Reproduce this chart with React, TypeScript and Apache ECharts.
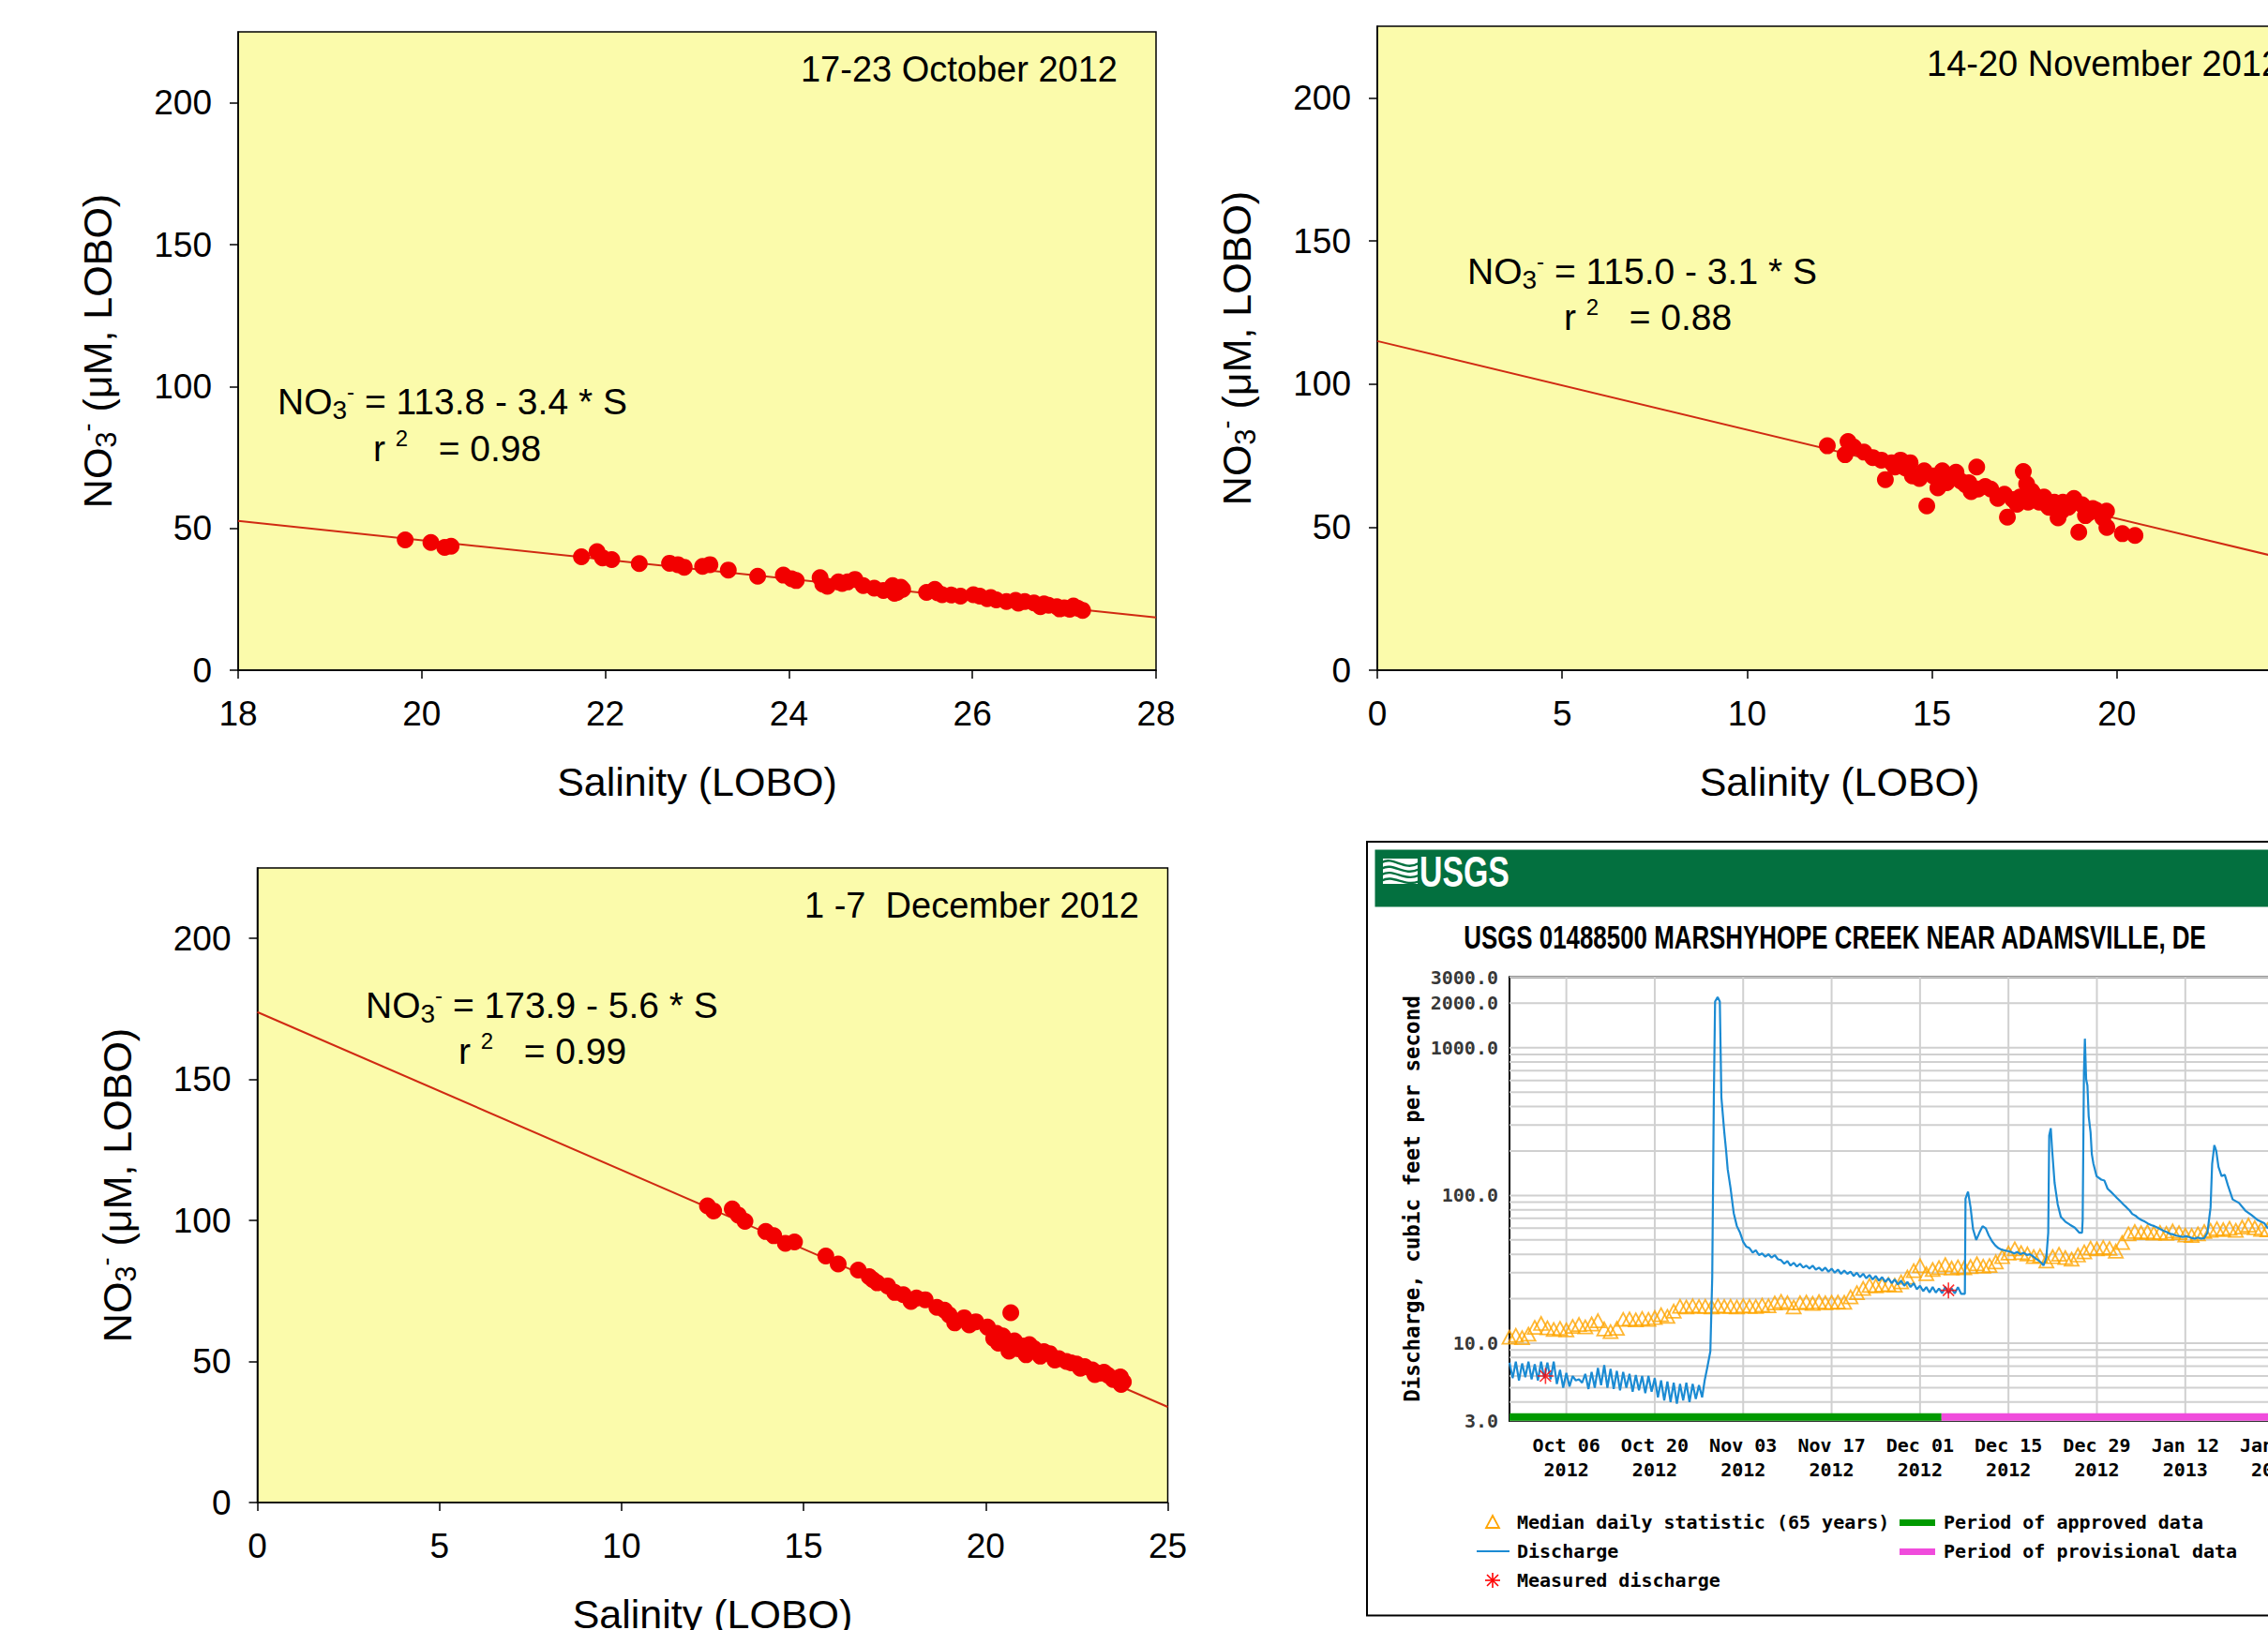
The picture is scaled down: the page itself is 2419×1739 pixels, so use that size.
import React, { useEffect, useRef } from 'react';
import * as echarts from 'echarts';

// ---------------- Panel data: LOBO nitrate vs salinity ----------------
const octSalinity = [19.82, 20.10, 20.25, 20.32, 21.74, 21.91, 21.97, 22.07, 22.37, 22.70, 22.79, 22.86, 23.06, 23.14, 23.34, 23.66, 23.94, 24.03, 24.08, 24.34, 24.37, 24.54, 24.64, 24.72, 24.81, 24.93, 25.03, 25.13, 25.18, 25.24, 25.50, 25.59, 25.67, 25.77, 25.87, 26.01, 26.08, 26.16, 26.26, 26.37, 26.47, 26.57, 26.67, 26.74, 26.83, 26.92, 27.00, 27.06, 27.15, 27.20, 24.42, 24.58, 25.15, 25.22, 25.62, 26.20, 26.50, 26.78, 26.95, 27.10];
const octNitrate = [45.9, 45.0, 43.3, 43.7, 40.0, 41.8, 39.6, 39.0, 37.6, 37.7, 37.2, 36.3, 36.6, 37.2, 35.3, 33.1, 33.5, 32.2, 31.6, 32.6, 30.3, 31.1, 31.1, 32.0, 29.8, 28.9, 28.1, 29.8, 27.4, 28.5, 27.4, 28.5, 26.6, 26.5, 26.1, 26.6, 26.1, 25.2, 24.8, 24.2, 24.6, 24.2, 23.7, 22.4, 22.9, 22.4, 22.0, 21.5, 21.8, 21.1, 29.6, 30.6, 27.1, 29.2, 27.3, 25.6, 23.6, 23.4, 21.6, 22.6];

const novSalinity = [12.17, 12.65, 12.73, 12.88, 13.16, 13.40, 13.63, 13.74, 13.91, 14.15, 14.28, 14.41, 14.47, 14.66, 14.79, 14.86, 15.03, 15.16, 15.28, 15.50, 15.65, 15.78, 15.91, 16.06, 16.21, 16.25, 16.44, 16.59, 16.78, 16.96, 17.04, 17.19, 17.38, 17.47, 17.56, 17.60, 17.75, 17.90, 18.03, 18.16, 18.31, 18.41, 18.54, 18.69, 18.84, 18.97, 19.06, 19.25, 19.44, 19.62, 19.72, 19.73, 20.15, 20.49, 17.30, 17.70, 18.10, 18.50, 18.75, 19.15, 19.35, 15.40, 16.00, 14.00];
const novNitrate = [78.4, 75.3, 79.9, 78.0, 76.2, 74.3, 73.4, 66.6, 72.5, 73.4, 70.7, 72.5, 67.9, 67.0, 69.7, 57.4, 67.9, 63.7, 69.7, 67.0, 69.2, 66.1, 64.8, 62.4, 71.0, 63.3, 64.2, 63.3, 60.0, 61.5, 53.5, 59.6, 60.5, 69.4, 65.1, 58.7, 61.5, 58.7, 60.5, 56.9, 58.7, 53.2, 58.7, 56.9, 60.0, 48.2, 57.8, 55.0, 55.9, 53.2, 55.6, 49.9, 47.7, 47.1, 58.0, 62.5, 58.0, 55.5, 58.0, 54.0, 56.5, 65.5, 65.5, 71.0];

const decSalinity = [12.36, 12.53, 13.04, 13.21, 13.39, 13.96, 14.18, 14.50, 14.75, 15.61, 15.95, 16.50, 16.80, 17.02, 17.31, 17.74, 17.95, 18.34, 18.66, 18.87, 19.15, 19.41, 19.73, 20.05, 20.22, 20.47, 20.69, 20.64, 20.79, 21.01, 21.11, 21.33, 21.50, 21.76, 22.01, 22.22, 22.50, 22.72, 22.93, 23.14, 23.36, 23.61, 23.72, 23.78, 20.35, 20.90, 21.20, 21.60, 21.90, 22.35, 22.60, 23.00, 23.25, 23.50, 23.70, 16.90, 17.50, 18.10, 19.00, 19.55, 20.30];
const decNitrate = [105.2, 103.4, 104.1, 101.9, 99.7, 96.1, 94.6, 91.9, 92.4, 87.4, 84.6, 82.4, 80.1, 77.9, 76.8, 73.7, 71.3, 71.9, 69.2, 68.2, 63.7, 65.5, 64.1, 62.2, 58.2, 59.1, 67.3, 53.7, 57.3, 55.5, 52.4, 54.6, 51.9, 52.8, 51.0, 50.0, 49.1, 48.2, 47.0, 45.9, 45.1, 44.0, 41.9, 42.8, 56.5, 54.5, 56.0, 53.5, 50.5, 49.5, 47.6, 45.4, 46.2, 43.6, 44.5, 79.0, 74.5, 72.5, 66.5, 63.0, 60.0];

// Regression fits printed on the panels: NO3 = a + b * S
const fitIntercepts = [113.8, 115.0, 173.9];
const fitSlopes = [-3.4, -3.1, -5.6];
const fitR2 = ['0.98', '0.88', '0.99'];
const panelPeriods = ['17-23 October 2012', '14-20 November 2012', '1 -7  December 2012'];
const nitrateTicks = [0, 50, 100, 150, 200];

// ---------------- USGS 01488500 discharge (day 0 = 6 Oct 2012) ----------------
const usgsTickDays = [0, 14, 28, 42, 56, 70, 84, 98, 112];
const usgsTickLabels = ['Oct 06\n2012', 'Oct 20\n2012', 'Nov 03\n2012', 'Nov 17\n2012', 'Dec 01\n2012', 'Dec 15\n2012', 'Dec 29\n2012', 'Jan 12\n2013', 'Jan 26\n2013'];
const usgsAxisLabels = [3, 10, 100, 1000, 2000, 3000];
const usgsGridValues = [3, 4, 5, 6, 7, 8, 9, 10, 20, 30, 40, 50, 60, 70, 80, 90, 100, 200, 300, 400, 500, 600, 700, 800, 900, 1000, 2000, 3000];

const medianStartDay = -9;
const medianCfs = [
  11.0, 11.3, 10.9, 11.5, 12.8, 13.6, 12.7, 12.4, 12.6, 12.3,
  13.0, 13.4, 12.9, 13.5, 14.2, 12.5, 12.0, 12.6, 14.5, 14.6,
  14.4, 14.7, 14.5, 14.9, 15.6, 15.2, 16.5, 17.8, 17.6, 17.9,
  17.7, 17.8, 17.6, 17.9, 17.7, 17.8, 17.6, 17.9, 17.8, 17.7,
  18.1, 17.9, 18.7, 19.2, 18.8, 17.6, 18.8, 19.0, 18.6, 19.1,
  18.8, 18.9, 19.0, 18.9, 20.6, 22.0, 23.5, 24.6, 24.4, 24.8,
  25.0, 24.7, 26.0, 28.0, 31.0, 33.5, 29.5, 31.5, 32.5, 34.0,
  32.2, 32.8, 32.4, 33.0, 34.5, 33.2, 33.6, 35.5, 38.5, 40.8,
  43.5, 41.0, 40.2, 38.6, 39.0, 36.0, 38.5, 40.0, 38.0, 37.0,
  39.5, 41.5, 44.0, 43.5, 44.5, 43.8, 42.0, 48.0, 55.0, 57.0,
  56.0, 56.8, 55.6, 56.2, 55.4, 57.5, 56.0, 54.0, 53.5, 55.0,
  57.0, 58.0, 59.5, 58.6, 60.0, 58.0, 61.0, 63.0, 60.5, 59.0,
  58.5,
];

const dischargeCfs = [
  [-9, 7.4], [-8.5, 5.8], [-8, 7.5], [-7.5, 5.6], [-7, 7.3], [-6.5, 5.9], [-6, 7.5], [-5.5, 5.7], [-5, 7.2], [-4.5, 5.6],
  [-4, 7.5], [-3.5, 5.8], [-3, 7.4], [-2.5, 5.7], [-2, 7.5], [-1.5, 5.3], [-1, 6.6], [-0.5, 5.0], [0, 6.3], [0.5, 5.1],
  [1, 6.0], [1.5, 5.6], [2, 5.7], [2.5, 5.4], [3, 6.2], [3.5, 4.9], [4, 6.4], [4.5, 5.0], [5, 6.8], [5.5, 5.2],
  [6, 7.1], [6.5, 5.0], [7, 6.7], [7.5, 4.9], [8, 6.5], [8.5, 4.8], [9, 6.4], [9.5, 5.0], [10, 6.2], [10.5, 4.7],
  [11, 6.1], [11.5, 4.8], [12, 6.0], [12.5, 4.6], [13, 6.0], [13.5, 4.7], [14, 5.8], [14.5, 4.3], [15, 5.6], [15.5, 4.1],
  [16, 5.5], [16.5, 4.0], [17, 5.4], [17.5, 3.9], [18, 5.3], [18.5, 4.1], [19, 5.4], [19.5, 4.0], [20, 5.3], [20.5, 4.2],
  [21, 5.2], [21.5, 4.3], [21.9, 5.6], [22.3, 6.8], [22.8, 8.8], [23.1, 28], [23.35, 450], [23.55, 2050], [23.95, 2200], [24.3, 2050],
  [24.55, 460], [25.0, 270], [25.3, 200], [25.55, 150], [26.0, 112], [26.5, 76], [27.0, 62], [27.5, 56], [28.0, 48.5], [28.5, 45],
  [29, 44], [29.5, 41], [30, 42.5], [30.5, 39.5], [31, 40.5], [31.5, 38.5], [32, 40], [32.5, 38], [33, 39.5], [33.5, 37],
  [34, 36.5], [34.5, 34.5], [35, 36], [35.5, 33.5], [36, 35], [36.5, 33], [37, 34.5], [37.5, 32.5], [38, 33.5], [38.5, 32],
  [39, 33.5], [39.5, 31.5], [40, 32.5], [40.5, 31], [41, 32.5], [41.5, 30.5], [42, 32], [42.5, 30], [43, 31.5], [43.5, 29.5],
  [44, 31], [44.5, 29.5], [45, 30.5], [45.5, 28.5], [46, 30], [46.5, 28], [47, 29.5], [47.5, 27.5], [48, 29], [48.5, 27],
  [49, 28.5], [49.5, 26.5], [50, 28], [50.5, 26], [51, 27.5], [51.5, 25.5], [52, 27], [52.5, 25], [53, 26.5], [53.5, 24.5],
  [54, 26], [54.5, 24], [55, 25.5], [55.5, 23.2], [56, 24.5], [56.5, 22.5], [57, 24], [57.5, 22], [58, 24], [58.5, 22],
  [59, 23.5], [59.5, 21.8], [60, 24], [60.5, 21.8], [61, 23.5], [61.5, 21.7], [62, 24], [62.5, 21.6], [63.1, 21.6], [63.2, 95],
  [63.6, 106], [64.0, 83], [64.4, 59], [64.9, 50], [65.4, 56], [65.9, 62], [66.4, 60], [66.9, 53.5], [67.4, 49], [67.9, 46],
  [68.4, 44], [68.9, 43], [69.4, 42.5], [69.9, 42], [70.4, 41.5], [70.9, 40.5], [71.4, 41.5], [71.9, 40], [72.4, 41], [72.9, 39.5],
  [73.4, 40], [73.8, 39], [74.3, 37.5], [74.8, 36.2], [75.2, 35], [75.55, 33.6], [76.0, 38], [76.3, 56], [76.45, 254], [76.7, 285],
  [76.9, 208], [77.3, 122], [77.8, 87], [78.3, 71.5], [79.0, 66.5], [79.75, 63.3], [80.5, 60.5], [81.2, 56], [81.65, 56], [81.75, 68],
  [81.95, 674], [82.1, 1150], [82.3, 611], [82.5, 556], [82.7, 344], [83.0, 267], [83.2, 190], [83.45, 164], [83.95, 135], [84.7, 128],
  [85.2, 126], [85.7, 111], [86.2, 106], [86.7, 101], [87.2, 96], [87.7, 91.5], [88.2, 87], [88.7, 83], [89.2, 79], [89.6, 75],
  [90.1, 73], [90.6, 70], [91.1, 68], [91.6, 66.5], [92.1, 64.5], [92.6, 63], [93.1, 62], [93.6, 60.5], [94.1, 59], [94.6, 57.6],
  [95.1, 56.5], [95.6, 54.9], [96.1, 54.5], [96.6, 53.5], [97.1, 53], [97.6, 52.3], [98.1, 53], [98.6, 52.3], [99.1, 51.5], [99.5, 51],
  [100, 52], [100.5, 51], [101, 51.5], [101.5, 56], [102.0, 83], [102.25, 164], [102.6, 219], [102.9, 200], [103.25, 156], [103.75, 135],
  [104.25, 138], [104.75, 117], [105.5, 94], [106.5, 89], [107.5, 79], [108.5, 73.5], [109.5, 68], [110.5, 65], [111, 60.5], [112, 58],
];

const measuredDischarge = [[-3.3, 6.0], [60.5, 22.8]];
const approvedPeriod = [-9, 59.4];
const provisionalPeriod = [59.4, 120];

// ---------------- Styling ----------------
const FONT = '"Liberation Sans", Arial, Helvetica, sans-serif';
const MONO = '"DejaVu Sans Mono", "Liberation Mono", monospace';
const PANEL_BG = '#fbfbab';
const DOT = '#f20000';
const FIT = '#d02a12';
const USGS_GREEN = '#03703f';
const BLUE = '#1b8bd3';
const ORANGE = '#ffa500';
const GRID_GRAY = '#d0d0d0';

const yNameRich = {
  b: { fontFamily: FONT, fontSize: 43, lineHeight: 50, verticalAlign: 'middle', color: '#000' },
  s: { fontFamily: FONT, fontSize: 31, verticalAlign: 'bottom', color: '#000' },
  p: { fontFamily: FONT, fontSize: 27, verticalAlign: 'top', color: '#000' },
};

const eqRich = {
  t: { fontFamily: FONT, fontSize: 39, lineHeight: 46, verticalAlign: 'middle', fill: '#000', color: '#000' },
  s: { fontFamily: FONT, fontSize: 28, verticalAlign: 'bottom', fill: '#000', color: '#000' },
  p: { fontFamily: FONT, fontSize: 24, verticalAlign: 'top', fill: '#000', color: '#000' },
};

const panelLayouts = [
  { grid: { left: 254, top: 34, width: 979, height: 681 }, xmin: 18, xmax: 28, xint: 2,
    date: { x: 1192, y: 74, align: 'right' }, eq1: [296, 428], eq2: [398, 478] },
  { grid: { left: 1469, top: 28, width: 986, height: 687 }, xmin: 0, xmax: 25, xint: 5,
    date: { x: 2055, y: 68, align: 'left' }, eq1: [1565, 289], eq2: [1668, 338] },
  { grid: { left: 274.5, top: 926, width: 971, height: 677 }, xmin: 0, xmax: 25, xint: 5,
    date: { x: 1215, y: 966, align: 'right' }, eq1: [390, 1072], eq2: [489, 1121] },
];
const panelData = [
  [octSalinity, octNitrate],
  [novSalinity, novNitrate],
  [decSalinity, decNitrate],
];

function buildOption() {
  const grids: any[] = [];
  const xAxes: any[] = [];
  const yAxes: any[] = [];
  const series: any[] = [];
  const graphics: any[] = [];

  panelLayouts.forEach((p, i) => {
    grids.push({
      ...p.grid, show: true, backgroundColor: PANEL_BG, borderColor: '#000', borderWidth: 1.5,
      containLabel: false, outerBoundsMode: 'none',
    });
    xAxes.push({
      gridIndex: i, type: 'value', min: p.xmin, max: p.xmax, interval: p.xint,
      axisLine: { show: true, onZero: false, lineStyle: { color: '#000', width: 1.5 } },
      axisTick: { show: true, inside: false, length: 9, lineStyle: { color: '#000', width: 1.5 } },
      axisLabel: { show: true, color: '#000', fontFamily: FONT, fontSize: 37, margin: 28 },
      splitLine: { show: false },
      name: 'Salinity (LOBO)', nameLocation: 'middle', nameGap: 97,
      nameTextStyle: { color: '#000', fontFamily: FONT, fontSize: 43 },
    });
    yAxes.push({
      gridIndex: i, type: 'value', min: 0, max: 225, interval: 50,
      axisLine: { show: true, onZero: false, lineStyle: { color: '#000', width: 1.5 } },
      axisTick: { show: true, inside: false, length: 9, customValues: nitrateTicks, lineStyle: { color: '#000', width: 1.5 } },
      axisLabel: { show: true, color: '#000', fontFamily: FONT, fontSize: 37, margin: 28, customValues: nitrateTicks },
      splitLine: { show: false },
      name: '{b|NO}{s|3}{p|-}{b| (μM, LOBO)}', nameLocation: 'middle', nameRotate: 90, nameGap: 125,
      nameTextStyle: { color: '#000', fontFamily: FONT, fontSize: 43, rich: yNameRich },
    });
    const a = fitIntercepts[i];
    const b = fitSlopes[i];
    series.push({
      type: 'line', xAxisIndex: i, yAxisIndex: i, symbol: 'none', silent: true, z: 2,
      lineStyle: { color: FIT, width: 2 },
      data: [[p.xmin, a + b * p.xmin], [p.xmax, a + b * p.xmax]],
    });
    const [sal, no3] = panelData[i];
    series.push({
      type: 'scatter', xAxisIndex: i, yAxisIndex: i, symbol: 'circle', symbolSize: 18, z: 3,
      itemStyle: { color: DOT, opacity: 1 },
      data: sal.map((s, k) => [s, no3[k]]),
    });
    graphics.push({
      type: 'text', x: p.date.x, y: p.date.y, z: 100,
      style: { text: panelPeriods[i], fontFamily: FONT, fontSize: 38, fill: '#000', align: p.date.align, verticalAlign: 'middle', textAlign: p.date.align, textVerticalAlign: 'middle' },
    });
    const sign = b < 0 ? '-' : '+';
    graphics.push({
      type: 'text', x: p.eq1[0], y: p.eq1[1], z: 100,
      style: {
        text: `{t|NO}{s|3}{p|-}{t| = ${a.toFixed(1)} ${sign} ${Math.abs(b).toFixed(1)} * S}`,
        rich: eqRich, fontFamily: FONT, fontSize: 39, fill: '#000', align: 'left', verticalAlign: 'middle', textAlign: 'left', textVerticalAlign: 'middle',
      },
    });
    graphics.push({
      type: 'text', x: p.eq2[0], y: p.eq2[1], z: 100,
      style: {
        text: `{t|r }{p|2}{t|   = ${fitR2[i]}}`,
        rich: eqRich, fontFamily: FONT, fontSize: 39, fill: '#000', align: 'left', verticalAlign: 'middle', textAlign: 'left', textVerticalAlign: 'middle',
      },
    });
  });

  // ---------------- USGS hydrograph ----------------
  const U = 3;
  const uXmin = -9;
  const uXmax = 120;
  grids.push({
    left: 1610, top: 1042.5, width: 869, height: 473, show: true, backgroundColor: '#fff',
    borderColor: '#000', borderWidth: 2, containLabel: false, outerBoundsMode: 'none',
  });
  xAxes.push({
    gridIndex: U, type: 'value', min: uXmin, max: uXmax,
    axisLine: { show: true, onZero: false, lineStyle: { color: '#000', width: 2 } },
    axisTick: { show: false },
    splitLine: { show: false },
    axisLabel: {
      show: true, customValues: usgsTickDays, color: '#000', fontFamily: MONO, fontWeight: 'bold', fontSize: 20,
      lineHeight: 26, margin: 13,
      formatter: (v: number) => {
        const k = usgsTickDays.indexOf(Math.round(v));
        return k >= 0 ? usgsTickLabels[k] : '';
      },
    },
  });
  yAxes.push({
    gridIndex: U, type: 'log', logBase: 10, min: 3, max: 3000,
    axisLine: { show: true, onZero: false, lineStyle: { color: '#000', width: 2 } },
    axisTick: { show: false }, axisLabel: { show: false }, splitLine: { show: false }, minorSplitLine: { show: false },
    name: 'Discharge, cubic feet per second', nameLocation: 'middle', nameRotate: 90, nameGap: 93,
    nameTextStyle: { color: '#000', fontFamily: MONO, fontWeight: 'bold', fontSize: 22.5 },
  });

  const hGrid: any[] = [];
  usgsGridValues.forEach((v) => { hGrid.push([uXmin, v], [uXmax, v], ['-', '-']); });
  const vGrid: any[] = [];
  usgsTickDays.forEach((d) => { vGrid.push([d, 3], [d, 3000], ['-', '-']); });

  series.push({
    type: 'line', xAxisIndex: U, yAxisIndex: U, symbol: 'none', silent: true, z: 1, connectNulls: false,
    lineStyle: { color: GRID_GRAY, width: 2 }, data: hGrid,
  });
  series.push({
    type: 'line', xAxisIndex: U, yAxisIndex: U, symbol: 'none', silent: true, z: 1, connectNulls: false,
    lineStyle: { color: GRID_GRAY, width: 2 }, data: vGrid,
  });
  series.push({
    type: 'scatter', xAxisIndex: U, yAxisIndex: U, symbol: 'triangle', symbolSize: [15, 14], z: 2, silent: true,
    itemStyle: { color: 'rgba(0,0,0,0)', borderColor: ORANGE, borderWidth: 1.8 },
    data: medianCfs.map((v, k) => [medianStartDay + k, v]),
  });
  series.push({
    type: 'line', xAxisIndex: U, yAxisIndex: U, symbol: 'none', silent: true, z: 3,
    lineStyle: { color: BLUE, width: 2.2 }, data: dischargeCfs,
  });
  series.push({
    type: 'scatter', xAxisIndex: U, yAxisIndex: U, silent: true, z: 4,
    symbol: 'path://M10,0L10,20M0,10L20,10M3,3L17,17M3,17L17,3', symbolSize: 17, symbolKeepAspect: true,
    itemStyle: { color: 'rgba(0,0,0,0)', borderColor: '#ff0000', borderWidth: 1.6 },
    data: measuredDischarge,
  });
  series.push({
    type: 'line', xAxisIndex: U, yAxisIndex: U, symbol: 'none', silent: true, z: 5,
    lineStyle: { color: '#009a00', width: 8, cap: 'butt' },
    data: approvedPeriod.map((d) => [d, 3.17]),
  });
  series.push({
    type: 'line', xAxisIndex: U, yAxisIndex: U, symbol: 'none', silent: true, z: 5,
    lineStyle: { color: '#f04cdc', width: 8, cap: 'butt' },
    data: provisionalPeriod.map((d) => [d, 3.17]),
  });
  series.push({
    type: 'scatter', xAxisIndex: U, yAxisIndex: U, symbolSize: 0, silent: true, clip: false, z: 6,
    itemStyle: { color: 'rgba(0,0,0,0)' },
    label: {
      show: true, position: 'left', distance: 12, color: '#000', fontFamily: MONO, fontWeight: 'bold', fontSize: 20,
      formatter: (prm: any) => Number(prm.value[1]).toFixed(1),
    },
    data: usgsAxisLabels.map((v) => [uXmin, v]),
  });

  // USGS frame, header and legend
  graphics.push({
    type: 'rect', z: 100, shape: { x: 1458, y: 898, width: 1100, height: 825.5 },
    style: { fill: 'none', stroke: '#000', lineWidth: 2 },
  });
  graphics.push({
    type: 'rect', z: 100, shape: { x: 1466.5, y: 906.5, width: 1100, height: 61 },
    style: { fill: USGS_GREEN },
  });
  graphics.push({
    type: 'rect', z: 101, shape: { x: 1475, y: 916, width: 37, height: 27 },
    style: { fill: '#fff' },
  });
  [0, 1, 2, 3].forEach((k) => {
    graphics.push({
      type: 'bezierCurve', z: 102,
      shape: { x1: 1474, y1: 920 + k * 6.5, cpx1: 1486, cpy1: 913 + k * 6.5, cpx2: 1498, cpy2: 930 + k * 5.5, x2: 1513, y2: 921 + k * 6.5 },
      style: { stroke: USGS_GREEN, lineWidth: 2.4, fill: 'none' },
    });
  });
  graphics.push({
    type: 'text', z: 101, x: 1514, y: 930, scaleX: 0.72,
    style: { text: 'USGS', fill: '#fff', fontFamily: FONT, fontWeight: 'bold', fontSize: 47, align: 'left', verticalAlign: 'middle', textAlign: 'left', textVerticalAlign: 'middle' },
  });
  graphics.push({
    type: 'text', z: 101, x: 1957, y: 1000, scaleX: 0.74,
    style: { text: 'USGS 01488500 MARSHYHOPE CREEK NEAR ADAMSVILLE, DE', fill: '#000', fontFamily: FONT, fontWeight: 'bold', fontSize: 35, align: 'center', verticalAlign: 'middle', textAlign: 'center', textVerticalAlign: 'middle' },
  });

  const legendText = (x: number, y: number, text: string) => ({
    type: 'text', z: 101, x, y,
    style: { text, fill: '#000', fontFamily: MONO, fontWeight: 'bold', fontSize: 20, align: 'left', verticalAlign: 'middle', textAlign: 'left', textVerticalAlign: 'middle' },
  });
  graphics.push({
    type: 'polygon', z: 101, shape: { points: [[1592, 1617], [1585, 1630], [1599, 1630]] },
    style: { fill: 'none', stroke: ORANGE, lineWidth: 1.8 },
  });
  graphics.push(legendText(1618, 1624, 'Median daily statistic (65 years)'));
  graphics.push({
    type: 'line', z: 101, shape: { x1: 1575, y1: 1655, x2: 1610, y2: 1655 },
    style: { stroke: BLUE, lineWidth: 2 },
  });
  graphics.push(legendText(1618, 1655, 'Discharge'));
  [[0, -8, 0, 8], [-8, 0, 8, 0], [-6, -6, 6, 6], [-6, 6, 6, -6]].forEach(([a, b, c, d]) => {
    graphics.push({
      type: 'line', z: 101, shape: { x1: 1592 + a, y1: 1686 + b, x2: 1592 + c, y2: 1686 + d },
      style: { stroke: '#ff0000', lineWidth: 1.6 },
    });
  });
  graphics.push(legendText(1618, 1686, 'Measured discharge'));
  graphics.push({ type: 'rect', z: 101, shape: { x: 2026, y: 1621, width: 38, height: 7 }, style: { fill: '#009a00' } });
  graphics.push(legendText(2073, 1624, 'Period of approved data'));
  graphics.push({ type: 'rect', z: 101, shape: { x: 2026, y: 1652, width: 38, height: 7 }, style: { fill: '#f04cdc' } });
  graphics.push(legendText(2073, 1655, 'Period of provisional data'));

  return {
    animation: false,
    backgroundColor: '#fff',
    textStyle: { fontFamily: FONT },
    grid: grids,
    xAxis: xAxes,
    yAxis: yAxes,
    series,
    graphic: { elements: graphics },
  };
}

export default function App() {
  const ref = useRef<HTMLDivElement>(null);
  useEffect(() => {
    if (!ref.current) return;
    const chart = echarts.init(ref.current, null, { renderer: 'svg' });
    chart.setOption(buildOption() as any);
    return () => chart.dispose();
  }, []);
  return (
    <div
      ref={ref}
      style={{ position: 'absolute', left: 0, top: 0, width: 2419, height: 1739, overflow: 'hidden', background: '#fff' }}
    />
  );
}
